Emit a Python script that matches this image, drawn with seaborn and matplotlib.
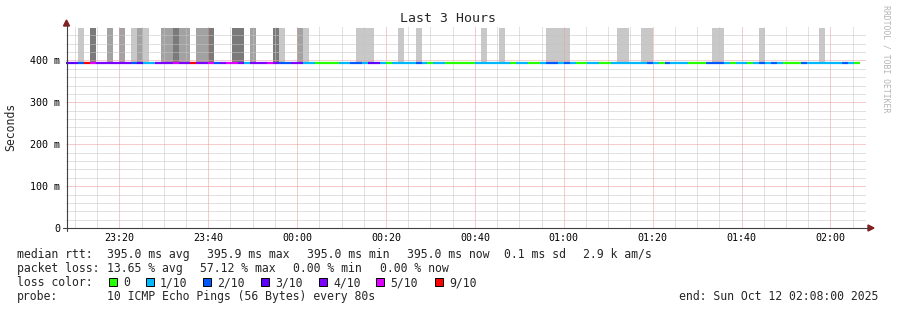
import numpy as np
import pandas as pd
import matplotlib
matplotlib.use("Agg")
import matplotlib.pyplot as plt
from matplotlib.patches import Rectangle, Polygon
from matplotlib.lines import Line2D
import seaborn as sns

# ---------------- data ----------------
bin_minutes = 80 / 60.0          # one SmokePing step = 80 s
median_rtt = 0.395               # seconds
smoke_top = 0.4776               # seconds (clipped at top)

# loss count (of 10 pings) for each 80 s step, starting 23:08
loss_per_bin = [
    3, 3, 2, 9, 5, 4, 4, 4, 4, 4,
    4, 2, 3, 1, 1, 4, 4, 4, 5, 4,
    4, 9, 4, 4, 5, 2, 4, 5, 5, 4,
    1, 4, 4, 4, 5, 4, 2, 2, 4, 4,
    1, 1, 0, 0, 0, 0, 1, 1, 2, 2,
    1, 3, 3, 1, 0, 1, 1, 1, 1, 2,
    1, 0, 1, 1, 0, 0, 0, 0, 0, 1,
    1, 1, 1, 1, 1, 0, 1, 1, 0, 0,
    1, 2, 2, 1, 2, 1, 0, 0, 1, 1,
    0, 0, 1, 1, 1, 1, 1, 1, 2, 1,
    0, 2, 1, 1, 1, 0, 0, 0, 2, 2,
    2, 1, 0, 1, 1, 0, 1, 2, 1, 2,
    1, 0, 0, 0, 2, 1, 1, 1, 1, 1,
    1, 2, 1, 0,
]

# smoke steps and their shade (1 light, 2 medium, 3 dark)
smoke_bins = [2, 4, 7, 9, 11, 12, 13, 16, 17, 18, 19, 20, 22, 23, 24, 28, 29,
              31, 35, 36, 39, 40, 49, 50, 51, 56, 59, 70, 73, 81, 82, 83, 84,
              93, 94, 97, 98, 109, 110, 117, 127]
smoke_shade = [1, 3, 2, 2, 1, 2, 1, 2, 2, 3, 2, 2, 2, 2, 3, 3, 3,
               2, 3, 1, 2, 1, 1, 1, 1, 1, 1, 1, 1, 1, 1, 1, 1,
               1, 1, 1, 1, 1, 1, 1, 1]
shade_colors = {1: "#c8c8c8", 2: "#a2a2a2", 3: "#7a7a7a"}

x_tick_minutes = [12, 32, 52, 72, 92, 112, 132, 152, 172]
x_tick_labels = ["23:20", "23:40", "00:00", "00:20", "00:40",
                 "01:00", "01:20", "01:40", "02:00"]
y_tick_values = [0, 0.1, 0.2, 0.3, 0.4]
y_tick_labels = ["0", "100 m", "200 m", "300 m", "400 m"]

loss_levels = [0, 1, 2, 3, 4, 5, 9]
loss_labels = ["0", "1/10", "2/10", "3/10", "4/10", "5/10", "9/10"]
loss_colors = ["#26ff00", "#00b8ff", "#0059ff", "#5e00ff", "#7e00ff", "#dd00ff", "#ff0000"]

title = "Last 3 Hours"
y_label = "Seconds"

# ---------------- style ----------------
sns.set_style("white")
plt.rcParams["font.family"] = ["DejaVu Sans Mono", "DejaVu Sans"]
MONO = ["DejaVu Sans Mono", "DejaVu Sans"]

W, H = 897, 310
fig = plt.figure(figsize=(W / 100, H / 100), dpi=100)
fig.patch.set_facecolor("white")

def fx(px):
    return px / W

def fy(py):
    return 1 - py / H

ax = fig.add_axes([fx(66), fy(228), 800 / W, 202 / H])
ax.set_facecolor("white")
ax.set_xlim(0, 180)
ax.set_ylim(0, 202 / 418.75)
for s in ax.spines.values():
    s.set_visible(False)

# smoke
sx = [b * bin_minutes for b in smoke_bins]
ax.bar(sx, [smoke_top - median_rtt] * len(sx), bottom=median_rtt,
       width=bin_minutes, align="edge",
       color=[shade_colors[s] for s in smoke_shade], linewidth=0, zorder=1)

# grid (dotted, 1px on / 1px off)
dot = (0, (1, 1))
minor_col = "#c4c4c4"
major_col = "#ec9a9a"
for m in range(2, 180, 5):
    major = (m - 12) % 20 == 0
    ax.axvline(m, color=major_col if major else minor_col, lw=0.72,
               ls=dot, zorder=2)
for k in range(1, 24):
    v = k * 0.02
    major = k % 5 == 0
    ax.axhline(v, color=major_col if major else minor_col, lw=0.72,
               ls=dot, zorder=2)

# median line coloured by loss (one segment per step)
rows = []
for i, l in enumerate(loss_per_bin):
    for t in (i * bin_minutes, (i + 1) * bin_minutes):
        rows.append({"t": t, "rtt": median_rtt, "step": i, "loss": str(l)})
df = pd.DataFrame(rows)
pal = {str(l): c for l, c in zip(loss_levels, loss_colors)}
sns.lineplot(data=df, x="t", y="rtt", hue="loss", units="step", estimator=None,
             palette=pal, legend=False, linewidth=1.6, ax=ax, zorder=3,
             solid_capstyle="butt")
ax.set_xlabel("")
ax.set_ylabel("")

# ticks
ax.set_xticks(x_tick_minutes)
ax.set_xticklabels(x_tick_labels, fontsize=7.2, family=MONO)
ax.set_yticks(y_tick_values)
ax.set_yticklabels(y_tick_labels, fontsize=7.2, family=MONO)
ax.tick_params(axis="both", length=2.2, width=0.7, color="#404040",
               direction="out", labelcolor="black")
ax.tick_params(axis="y", pad=2.2)
ax.tick_params(axis="x", pad=1.5)

# axes lines with arrows
axis_col = "#404040"
arrow_col = "#802020"
fig.add_artist(Line2D([fx(66.5), fx(66.5)], [fy(231), fy(25)], color=axis_col,
                      lw=0.8, transform=fig.transFigure))
fig.add_artist(Line2D([fx(63), fx(868)], [fy(228), fy(228)], color=axis_col,
                      lw=0.8, transform=fig.transFigure))
fig.add_artist(Polygon([[fx(63.5), fy(26)], [fx(69.5), fy(26)], [fx(66.5), fy(20)]],
                       closed=True, color=arrow_col, transform=fig.transFigure))
fig.add_artist(Polygon([[fx(868), fy(225)], [fx(868), fy(231)], [fx(874), fy(228)]],
                       closed=True, color=arrow_col, transform=fig.transFigure))

# title and y label
fig.text(fx(448), fy(19), title, ha="center", va="center", fontsize=9.5, family=MONO)
fig.text(fx(11), fy(127), y_label, ha="center", va="center", rotation=90,
         fontsize=8.3, family=MONO)
fig.text(fx(886), fy(59), "RRDTOOL / TOBI OETIKER", ha="center", va="center",
         rotation=-90, fontsize=5.9, family=MONO, color="#b4b4b4")

# legend / statistics text
fs = 8.3
r1, r2, r3, r4 = 254.3, 268.3, 282.7, 296.7
items = [
    (16.7, r1, "median rtt:"), (107.3, r1, "395.0 ms avg"), (207.3, r1, "395.9 ms max"),
    (307.3, r1, "395.0 ms min"), (406.7, r1, "395.0 ms now"), (504.3, r1, "0.1 ms sd"),
    (583.0, r1, "2.9 k am/s"),
    (16.7, r2, "packet loss:"), (107.3, r2, "13.65 % avg"), (200.0, r2, "57.12 % max"),
    (292.7, r2, "0.00 % min"), (380.0, r2, "0.00 % now"),
    (16.7, r3, "loss color:"),
    (16.7, r4, "probe:"), (107.3, r4, "10 ICMP Echo Pings (56 Bytes) every 80s"),
    (678.7, r4, "end: Sun Oct 12 02:08:00 2025"),
]
for x, y, s in items:
    fig.text(fx(x), fy(y), s, ha="left", va="center", fontsize=fs, family=MONO)

box_x = [108.5, 145.5, 203.0, 261.0, 318.5, 376.0, 435.0]
for bx, lab, col in zip(box_x, loss_labels, loss_colors):
    fig.add_artist(Rectangle((fx(bx), fy(286)), 8 / W, 8 / H, facecolor=col,
                             edgecolor="black", lw=0.7, transform=fig.transFigure))
    fig.text(fx(bx + 14.5), fy(r3), lab, ha="left", va="center", fontsize=fs, family=MONO)

fig.savefig("out.png", dpi=100, facecolor="white")
